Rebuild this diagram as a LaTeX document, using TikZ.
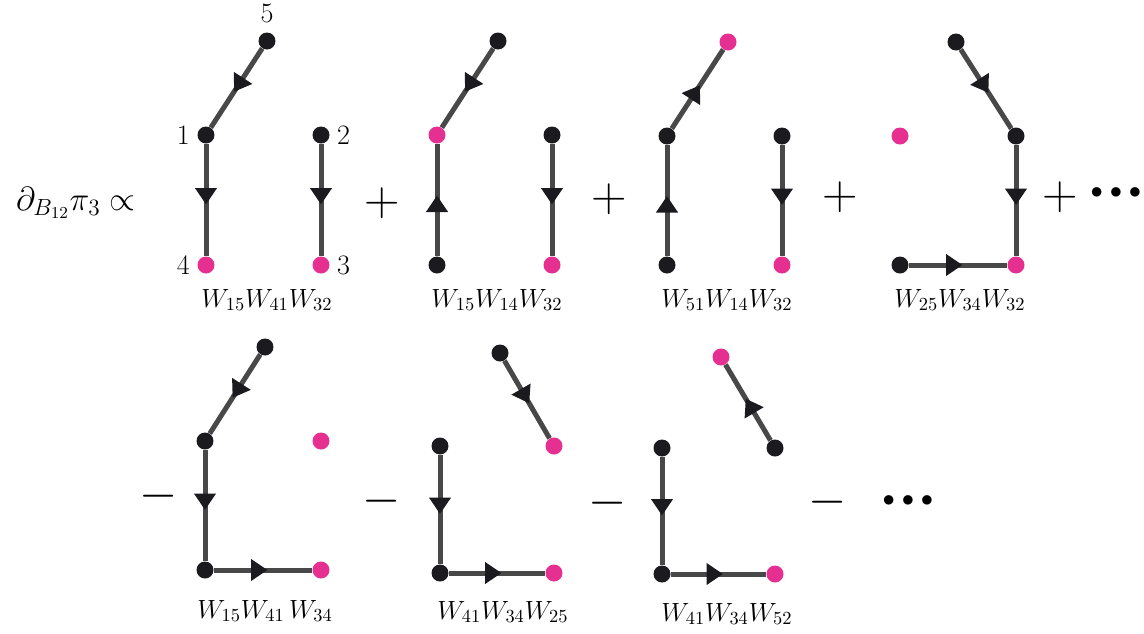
\documentclass[tikz,border=0pt]{standalone}
\usepackage{fix-cm}
\usepackage{amsmath}
\usetikzlibrary{arrows.meta, decorations.markings}
\definecolor{DotBlack}{RGB}{26,26,31}
\definecolor{DotPink}{RGB}{230,48,145}
\definecolor{EdgeGray}{RGB}{72,72,72}

\begin{document}
\begin{tikzpicture}[x=0.02cm, y=-0.02cm,
    vb/.style={circle, fill=DotBlack, inner sep=0pt, minimum size=0.34cm},
    vp/.style={circle, fill=DotPink, inner sep=0pt, minimum size=0.34cm},
    num/.style={font=\fontsize{16}{19}\selectfont, inner sep=1pt},
    wlab/.style={font=\fontsize{15}{18}\selectfont},
    op/.style={font=\fontsize{28}{32}\selectfont},
    wline/.style={draw=EdgeGray, line width=0.1cm, postaction={decorate},
                  decoration={markings, mark=at position 0.5 with
                  {\arrow[xshift=0.09cm]{Triangle[length=0.33cm, width=0.42cm, color=DotBlack]}}}}
  ]
  \useasboundingbox (0,0) rectangle (1144,633);

  % Left-hand side
  \node[font=\fontsize{19}{23}\selectfont] (lhs) at (76,203)
        {$\partial_{B_{12}}\pi_3 \propto$};

  % Term 1
  \node[vb, label={[num, label distance=4pt]above:5}] (a5) at (267,41) {};
  \node[vb, label={[num, label distance=3pt]left:1}]  (a1) at (206,135) {};
  \node[vp, label={[num, label distance=3pt]left:4}]  (a4) at (206,265) {};
  \node[vb, label={[num, label distance=3pt]right:2}] (a2) at (321,135) {};
  \node[vp, label={[num, label distance=3pt]right:3}] (a3) at (321,265) {};
  \draw[wline] (a5) -- (a1);
  \draw[wline] (a1) -- (a4);
  \draw[wline] (a2) -- (a3);
  \node[wlab] (wa) at (267,300) {$W_{15}W_{41}W_{32}$};

  \node[op] (p1) at (382,203) {$+$};

  % Term 2
  \node[vb] (b5) at (498,41) {};
  \node[vp] (b1) at (437,135) {};
  \node[vb] (b4) at (437,265) {};
  \node[vb] (b2) at (552,135) {};
  \node[vp] (b3) at (552,265) {};
  \draw[wline] (b5) -- (b1);
  \draw[wline] (b4) -- (b1);
  \draw[wline] (b2) -- (b3);
  \node[wlab] (wb) at (497,300) {$W_{15}W_{14}W_{32}$};

  \node[op] (p2) at (609,199) {$+$};

  % Term 3
  \node[vp] (c5) at (728,42) {};
  \node[vb] (c1) at (667,136) {};
  \node[vb] (c4) at (667,265) {};
  \node[vb] (c2) at (782,136) {};
  \node[vp] (c3) at (782,265) {};
  \draw[wline] (c1) -- (c5);
  \draw[wline] (c4) -- (c1);
  \draw[wline] (c2) -- (c3);
  \node[wlab] (wc) at (727,300) {$W_{51}W_{14}W_{32}$};

  \node[op] (p3) at (840,197) {$+$};

  % Term 4
  \node[vb] (d5) at (956,42) {};
  \node[vp] (d1) at (900,136) {};
  \node[vb] (d4) at (900,265) {};
  \node[vb] (d2) at (1016,136) {};
  \node[vp] (d3) at (1016,265) {};
  \draw[wline] (d5) -- (d2);
  \draw[wline] (d2) -- (d3);
  \draw[wline] (d4) -- (d3);
  \node[wlab] (wd) at (960,300) {$W_{25}W_{34}W_{32}$};

  \node[op] (p4) at (1060,197) {$+$};
  \node[font=\fontsize{14}{17}\selectfont] (dt1) at (1116,193)
        {$\bullet\mkern1mu\bullet\mkern1mu\bullet$};

  % Second row
  \node[op] (m1) at (159,496) {$-$};

  % Term 5
  \node[vb] (e5) at (265,347) {};
  \node[vb] (e1) at (205,441) {};
  \node[vb] (e4) at (205,570) {};
  \node[vp] (e2) at (321,441) {};
  \node[vp] (e3) at (321,570) {};
  \draw[wline] (e5) -- (e1);
  \draw[wline] (e1) -- (e4);
  \draw[wline] (e4) -- (e3);
  \node[wlab] (we) at (265,611) {$W_{15}W_{41}\,W_{34}$};

  \node[op] (m2) at (382,501) {$-$};

  % Term 6
  \node[vb] (f5) at (500,353) {};
  \node[vp] (f2) at (554,446) {};
  \node[vb] (f1) at (440,446) {};
  \node[vb] (f4) at (440,573) {};
  \node[vp] (f3) at (554,573) {};
  \draw[wline] (f5) -- (f2);
  \draw[wline] (f1) -- (f4);
  \draw[wline] (f4) -- (f3);
  \node[wlab] (wf) at (503,612) {$W_{41}W_{34}W_{25}$};

  \node[op] (m3) at (608,503) {$-$};

  % Term 7
  \node[vp] (g5) at (721,357) {};
  \node[vb] (g2) at (775,448) {};
  \node[vb] (g1) at (662,448) {};
  \node[vb] (g4) at (662,574) {};
  \node[vp] (g3) at (775,574) {};
  \draw[wline] (g2) -- (g5);
  \draw[wline] (g1) -- (g4);
  \draw[wline] (g4) -- (g3);
  \node[wlab] (wg) at (727,614) {$W_{41}W_{34}W_{52}$};

  \node[op] (m4) at (828,502) {$-$};
  \node[font=\fontsize{14}{17}\selectfont] (dt2) at (908,501)
        {$\bullet\mkern1mu\bullet\mkern1mu\bullet$};
\end{tikzpicture}
\end{document}
